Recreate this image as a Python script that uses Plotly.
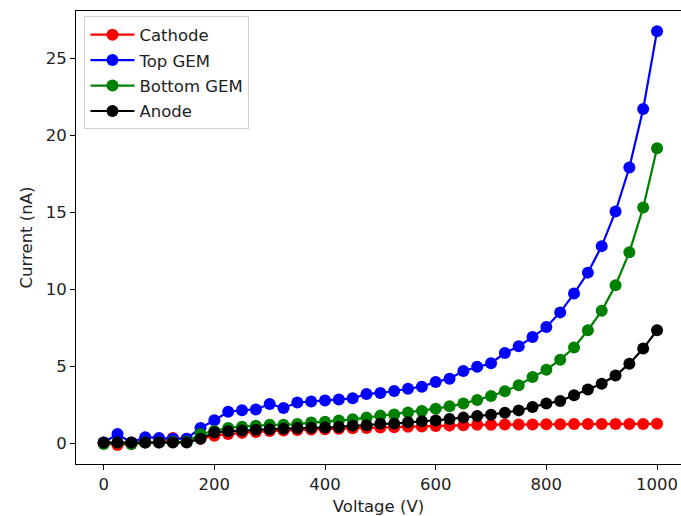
import plotly.graph_objects as go

voltage = list(range(0, 1001, 25))

cathode = [0.0, -0.1, -0.05, 0.05, 0.1, 0.35, 0.3, 0.3, 0.5, 0.6, 0.68, 0.74, 0.8, 0.83, 0.86, 0.9,
           0.92, 0.95, 0.98, 1.0, 1.03, 1.05, 1.08, 1.1, 1.13, 1.15, 1.18, 1.2, 1.21, 1.22, 1.23,
           1.23, 1.24, 1.24, 1.25, 1.25, 1.25, 1.26, 1.26, 1.26, 1.27]
top_gem = [0.05, 0.6, 0.05, 0.4, 0.35, 0.3, 0.3, 1.0, 1.5, 2.05, 2.15, 2.2, 2.55, 2.3, 2.65, 2.72,
           2.78, 2.85, 2.92, 3.2, 3.27, 3.4, 3.55, 3.68, 3.98, 4.2, 4.7, 4.97, 5.2, 5.86, 6.3,
           6.9, 7.55, 8.5, 9.72, 11.08, 12.8, 15.05, 17.9, 21.7, 26.75]
bottom_gem = [-0.05, 0.05, -0.05, 0.05, 0.05, 0.1, 0.1, 0.6, 0.8, 1.0, 1.08, 1.15, 1.2, 1.2, 1.25, 1.35,
              1.4, 1.48, 1.56, 1.67, 1.8, 1.88, 2.0, 2.1, 2.25, 2.4, 2.58, 2.82, 3.07, 3.38, 3.77,
              4.3, 4.78, 5.43, 6.22, 7.34, 8.6, 10.26, 12.4, 15.3, 19.15]
anode = [0.05, 0.05, 0.05, 0.05, 0.05, 0.05, 0.05, 0.3, 0.7, 0.78, 0.84, 0.88, 0.92, 0.95, 0.99, 1.02,
         1.03, 1.06, 1.15, 1.17, 1.27, 1.28, 1.37, 1.43, 1.49, 1.58, 1.67, 1.77, 1.86, 1.99, 2.14,
         2.36, 2.58, 2.75, 3.12, 3.49, 3.87, 4.4, 5.17, 6.15, 7.34]

series = [("Cathode", cathode, "red"), ("Top GEM", top_gem, "blue"),
          ("Bottom GEM", bottom_gem, "green"), ("Anode", anode, "black")]

fig = go.Figure()
for name, vals, col in series:
    fig.add_trace(go.Scatter(x=voltage, y=vals, name=name, mode="lines+markers",
                             legendgroup=name,
                             line=dict(color=col, width=2.2),
                             marker=dict(color=col, size=12)))

font = "DejaVu Sans"
fs = 16.5
fig.update_layout(
    width=681, height=516,
    margin=dict(l=76, r=0, t=11, b=52),
    paper_bgcolor="white", plot_bgcolor="white",
    font=dict(family=font, size=fs, color="#222"),
    showlegend=True,
    legend=dict(x=0.014, y=0.988, xanchor="left", yanchor="top",
                bordercolor="#d0d0d0", borderwidth=1, bgcolor="rgba(255,255,255,0.8)",
                itemwidth=44,
                font=dict(family=font, size=fs, color="#222"), tracegroupgap=1),
    xaxis=dict(range=[-50, 1043.3], tickvals=[0, 200, 400, 600, 800, 1000],
               showgrid=False, zeroline=False, showline=True, linecolor="black", linewidth=1,
               mirror=True, ticks="outside", ticklen=5, tickcolor="black",
               tickfont=dict(size=fs),
               title=dict(text="Voltage (V)", font=dict(size=fs), standoff=8)),
    yaxis=dict(range=[-1.34, 28.06], tickvals=[0, 5, 10, 15, 20, 25],
               showgrid=False, zeroline=False, showline=True, linecolor="black", linewidth=1,
               mirror=False, ticks="outside", ticklen=5, tickcolor="black",
               tickfont=dict(size=fs),
               title=dict(text="Current (nA)", font=dict(size=fs), standoff=8)),
)

fig.write_html("out.html")
